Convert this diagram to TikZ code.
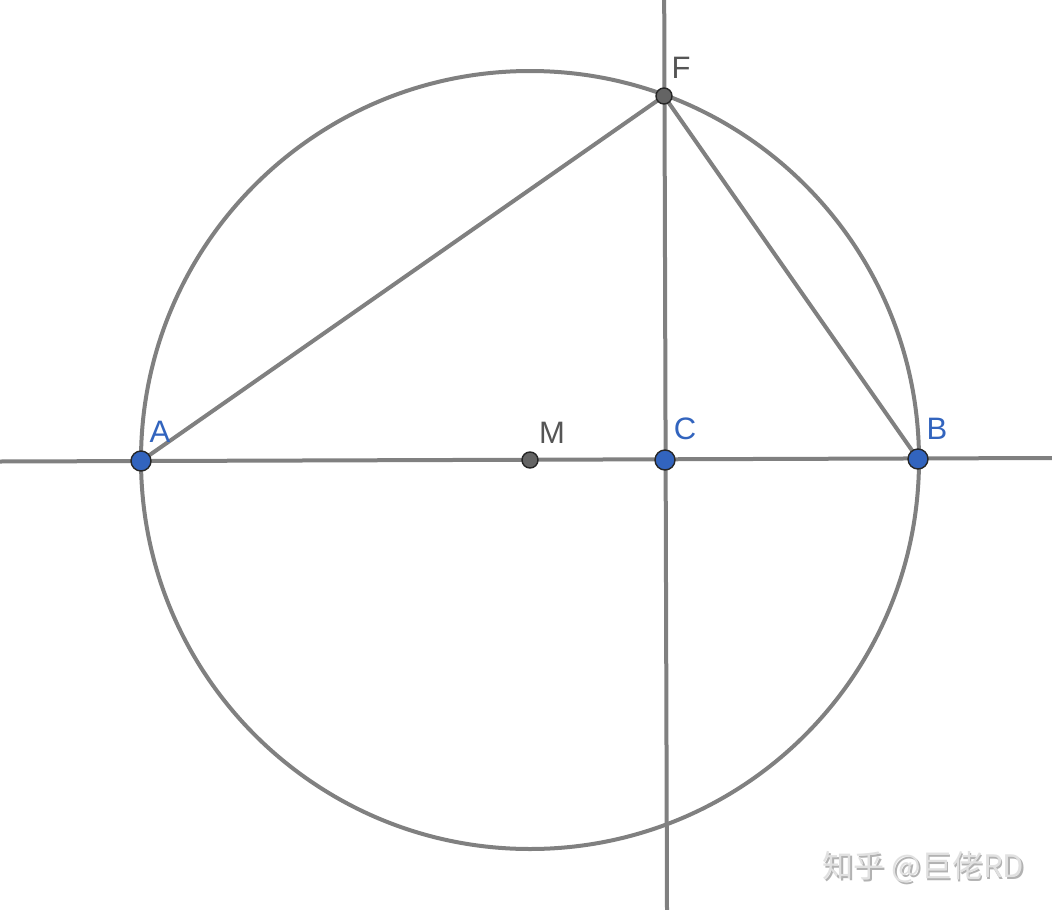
\documentclass[tikz,border=0pt]{standalone}
\usepackage{fontspec}
\setmainfont{Liberation Sans}
\newfontfamily\cjkfont{Noto Sans CJK SC}
\begin{document}
\begin{tikzpicture}[x=1pt,y=-1pt,
  geoline/.style={draw=linegray,line width=4pt},
  bluept/.style={circle,draw=black!85,line width=1.4pt,fill=ptblue,inner sep=0pt,minimum size=20pt},
  graypt/.style={circle,draw=black!85,line width=1.4pt,fill=ptgray,inner sep=0pt,minimum size=16pt},
  bluelbl/.style={text=ptblue,font=\fontsize{31}{31}\selectfont,inner sep=0pt},
  graylbl/.style={text=lblgray,font=\fontsize{31}{31}\selectfont,inner sep=0pt}]
\definecolor{linegray}{RGB}{128,128,128}
\definecolor{ptblue}{RGB}{50,100,190}
\definecolor{ptgray}{RGB}{100,100,100}
\definecolor{lblgray}{RGB}{85,85,85}
\definecolor{wmgray}{RGB}{225,225,225}
\useasboundingbox[fill=white] (0,0) rectangle (1052,910);
% points
\coordinate (A) at (141,461);
\coordinate (B) at (918,459);
\coordinate (M) at (530,460);
\coordinate (C) at (665,460);
\coordinate (F) at (664,96);
\coordinate (hL) at (0,461.5);
\coordinate (hR) at (1052,458);
\coordinate (vT) at (664.2,0);
\coordinate (vB) at (667,910);
% circle and lines
\draw[geoline] (M) circle[radius=389];
\draw[geoline] (hL) -- (hR);
\draw[geoline] (vT) -- (vB);
\draw[geoline] (A) -- (F) -- (B);
% point markers
\node[graypt] (Mp) at (M) {};
\node[graypt] (Fp) at (F) {};
\node[bluept] (Ap) at (A) {};
\node[bluept] (Cp) at (C) {};
\node[bluept] (Bp) at (B) {};
% labels
\node[bluelbl] (Al) at (160,432) {A};
\node[graylbl] (Ml) at (552,433) {M};
\node[bluelbl] (Cl) at (685,429) {C};
\node[bluelbl] (Bl) at (937,429) {B};
\node[graylbl] (Fl) at (681,68) {F};
% watermark
\node[text=gray!60,font=\cjkfont\fontsize{31}{31}\selectfont,inner sep=0pt] (wm2) at (925,869) {知乎 @巨佬RD};
\node[text=wmgray,font=\cjkfont\fontsize{31}{31}\selectfont,inner sep=0pt] (wm) at (923.5,867.5) {知乎 @巨佬RD};
\end{tikzpicture}
\end{document}
